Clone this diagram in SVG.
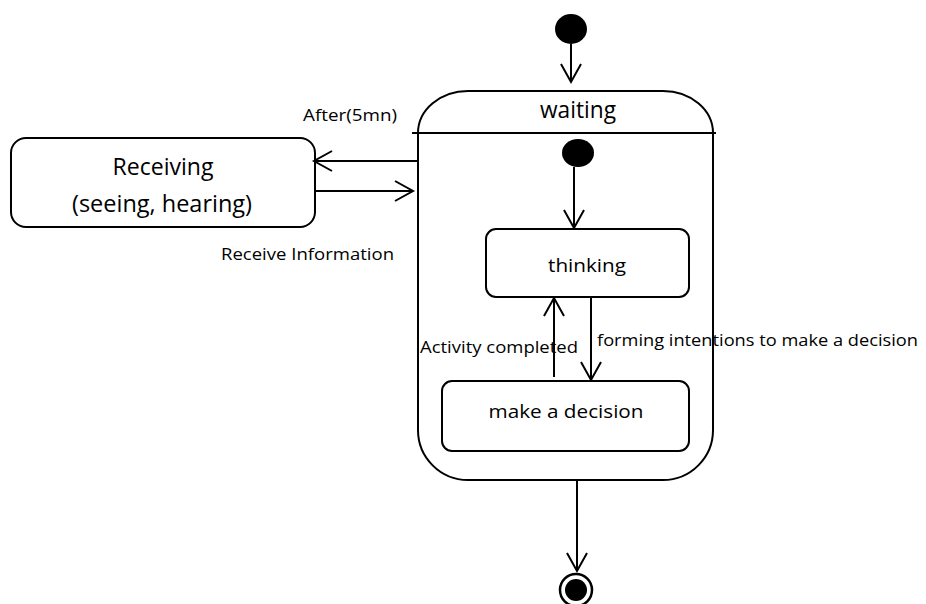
<svg xmlns="http://www.w3.org/2000/svg" width="926" height="604" viewBox="0 0 926 604">
<style>
.box{fill:#fff;stroke:#000;stroke-width:2}
.ln{fill:none;stroke:#000;stroke-width:2}
.t{font-family:"Open Sans","Liberation Sans",sans-serif;fill:#000}
</style>
<defs>
<marker id="arr" markerWidth="24" markerHeight="24" refX="20" refY="12" orient="auto" markerUnits="userSpaceOnUse">
<path d="M2,2 L20,12 L2,22" fill="none" stroke="#000" stroke-width="2"/>
</marker>
</defs>
<rect width="926" height="604" fill="#fff"/>
<g id="waiting">
<path class="box" d="M418,133 L418,430 A50,50 0 0 0 468,480 L663,480 A50,50 0 0 0 713,430 L713,133 Z"/>
<path class="box" d="M418,133 A50,42 0 0 1 468,91 L663,91 A50,42 0 0 1 713,133"/>
<line class="ln" x1="412" y1="133" x2="716" y2="133"/>
<text class="t" x="578" y="118" font-size="23" text-anchor="middle" textLength="76" lengthAdjust="spacingAndGlyphs">waiting</text>
</g>
<g id="init_top"><ellipse cx="571" cy="29" rx="16" ry="15" fill="#000"/></g>
<g id="init_inner"><ellipse cx="578" cy="153" rx="16" ry="14" fill="#000"/></g>
<g id="receiving">
<rect class="box" x="11" y="138" width="304" height="89" rx="15"/>
<text class="t" x="163" y="175" font-size="23" text-anchor="middle" textLength="101" lengthAdjust="spacingAndGlyphs">Receiving</text>
<text class="t" x="162" y="212" font-size="23" text-anchor="middle" textLength="180" lengthAdjust="spacingAndGlyphs">(seeing, hearing)</text>
</g>
<g id="thinking">
<rect class="box" x="486" y="229" width="203" height="68" rx="10"/>
<text class="t" x="587" y="272" font-size="19" text-anchor="middle" textLength="78" lengthAdjust="spacingAndGlyphs">thinking</text>
</g>
<g id="decision">
<rect class="box" x="442" y="381" width="247" height="70" rx="10"/>
<text class="t" x="566" y="418" font-size="19" text-anchor="middle" textLength="155" lengthAdjust="spacingAndGlyphs">make a decision</text>
</g>
<g id="final">
<circle cx="576" cy="590" r="16" fill="#fff" stroke="#000" stroke-width="2.5"/>
<circle cx="576" cy="590" r="11" fill="#000"/>
</g>
<g id="connectors">
<line class="ln" x1="571" y1="44" x2="571" y2="82" marker-end="url(#arr)"/>
<line class="ln" x1="574" y1="167" x2="574" y2="228" marker-end="url(#arr)"/>
<line class="ln" x1="418" y1="161" x2="314" y2="161" marker-end="url(#arr)"/>
<line class="ln" x1="315" y1="191" x2="413" y2="191" marker-end="url(#arr)"/>
<line class="ln" x1="554" y1="377" x2="554" y2="298" marker-end="url(#arr)"/>
<line class="ln" x1="591" y1="297" x2="591" y2="380" marker-end="url(#arr)"/>
<line class="ln" x1="577" y1="480" x2="577" y2="571" marker-end="url(#arr)"/>
<text class="t" x="303" y="121" font-size="17" textLength="94" lengthAdjust="spacingAndGlyphs">After(5mn)</text>
<text class="t" x="221" y="260" font-size="17" textLength="173" lengthAdjust="spacingAndGlyphs">Receive Information</text>
<text class="t" x="420" y="353" font-size="17" textLength="158" lengthAdjust="spacingAndGlyphs">Activity completed</text>
<text class="t" x="597" y="346" font-size="17" textLength="321" lengthAdjust="spacingAndGlyphs">forming intentions to make a decision</text>
</g>
</svg>
